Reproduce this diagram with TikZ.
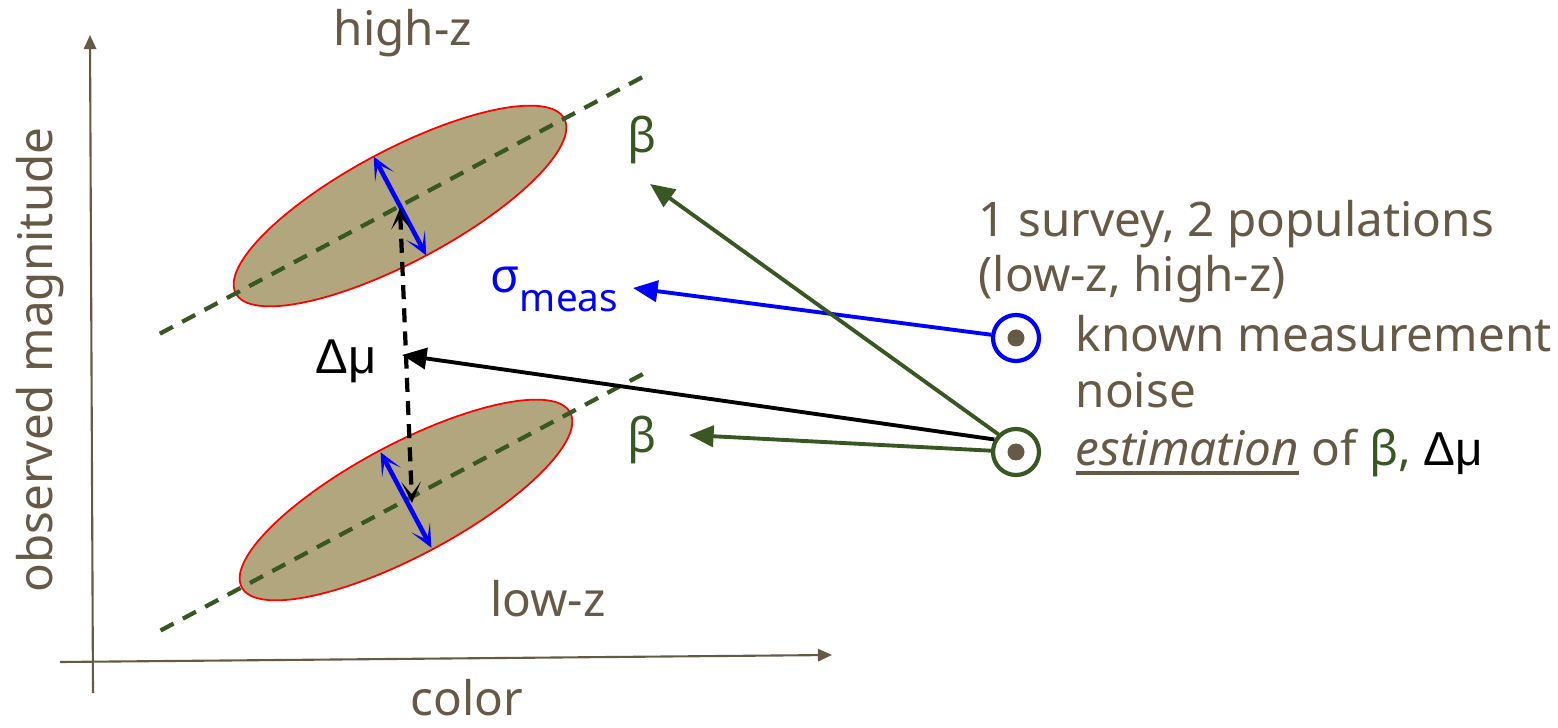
\documentclass[tikz,border=0pt]{standalone}
\usepackage{fontspec}
\setmainfont{Noto Sans}
\newfontfamily\arialfont{Liberation Sans}
\usepackage{tikz}
\usetikzlibrary{arrows.meta,positioning,calc}

\definecolor{textbrown}{RGB}{102,90,70}
\definecolor{popfill}{RGB}{177,166,126}
\definecolor{betagreen}{RGB}{56,87,35}

% thick underline
\newcommand{\thickul}[1]{\leavevmode\vtop{\hbox{#1}\kern1.5pt\hrule height 1.1pt}}

\begin{document}
\begin{tikzpicture}[
    font=\fontsize{13.55}{16}\selectfont,
    lbl/.style={text=textbrown, inner sep=0pt},
    axis/.style={textbrown, line width=0.6pt, -{Triangle[length=4pt,width=3.5pt]}},
    pop/.style={draw=red, fill=popfill, line width=0.5pt},
    trend/.style={betagreen, line width=1.2pt, dash pattern=on 4.2pt off 3pt},
    spread/.style={blue, line width=1.3pt, {Stealth[inset=4pt,length=6.5pt,width=6pt]}-{Stealth[inset=4pt,length=6.5pt,width=6pt]}},
    offset/.style={black, line width=1.2pt, dash pattern=on 4pt off 2.6pt, {Stealth[inset=3.5pt,length=6pt,width=5.5pt]}-{Stealth[inset=3.5pt,length=6pt,width=5.5pt]}},
    pointer/.style={line width=1.1pt, -{Triangle[length=7pt,width=6pt]}},
    bullet/.style={circle, line width=1.2pt, minimum size=0.46cm, inner sep=0pt, fill=white,
        path picture={\fill[textbrown] (path picture bounding box.center) circle (0.085);}}
]
    \useasboundingbox (0,0) rectangle (15.58,7.27);

    % axes
    \draw[axis] (0.93,0.34) -- (0.90,6.92);
    \draw[axis] (0.60,0.65) -- (8.32,0.72);
    \node[lbl, rotate=90] (ylab) at (0.40,3.67) {observed magnitude};
    \node[lbl, anchor=base] (xlab) at (4.67,0.12) {color};

    % the two populations
    \coordinate (hiC) at (4.00,5.21);
    \coordinate (loC) at (4.06,2.27);
    \draw[pop, rotate around={28:(hiC)}] (hiC) ellipse (1.86 and 0.56);
    \draw[pop, rotate around={28:(loC)}] (loC) ellipse (1.86 and 0.56);
    \draw[trend] ($(hiC)+(208:2.72)$) -- ($(hiC)+(28:2.78)$);
    \draw[trend] ($(loC)+(208:2.78)$) -- ($(loC)+(28:2.78)$);
    \node[lbl, anchor=base] (hiz) at (4.03,6.81) {high-z};
    \node[lbl, anchor=base] (loz) at (5.48,1.10) {low-z};

    % intrinsic width and offset
    \draw[spread] ($(hiC)+(118:0.56)$) -- ($(hiC)+(-62:0.56)$);
    \draw[spread] ($(loC)+(118:0.54)$) -- ($(loC)+(-62:0.54)$);
    \coordinate (hiEnd) at (4.00,5.19);
    \coordinate (loEnd) at (4.12,2.24);
    \draw[offset] (hiEnd) -- (loEnd);

    % labels on the plot
    \node[text=black, inner sep=0pt, anchor=base west, font=\arialfont\fontsize{13.9}{16}\selectfont] (dmu) at (3.15,3.54) {Δμ};
    \node[text=blue, inner sep=0pt, anchor=base west] (sig) at (4.90,4.34)
        {σ\raisebox{-5.4pt}{\fontsize{11}{11}\selectfont meas}};
    \node[text=betagreen, inner sep=0pt] (betahi) at (6.42,5.87) {β};
    \node[text=betagreen, inner sep=0pt] (betalo) at (6.42,2.87) {β};

    % legend on the right
    \node[lbl, anchor=base west] (survey) at (9.78,4.90) {1 survey, 2 populations};
    \node[lbl, anchor=base west] (pops) at (9.78,4.35) {(low-z, high-z)};
    \node[bullet, draw=blue] (bnoise) at (10.16,3.89) {};
    \node[lbl, anchor=base west] (known) at (10.75,3.75) {known measurement};
    \node[lbl, anchor=base west] (noise) at (10.75,3.19) {noise};
    \node[bullet, draw=betagreen] (best) at (10.16,2.75) {};
    \node[lbl, anchor=base west] (estim) at (10.75,2.62)
        {\thickul{\textit{estimation}} of \textcolor{betagreen}{β,} \textcolor{black}{\arialfont Δμ}};

    % what each item points at
    \coordinate (sigTip) at (6.33,4.39);
    \coordinate (dmuTip) at (4.02,3.72);
    \coordinate (betahiTip) at (6.50,5.43);
    \coordinate (betaloTip) at (6.89,2.92);
    \draw[pointer, blue] (bnoise) -- (sigTip);
    \draw[pointer, black] (best.150) -- (dmuTip);
    \draw[pointer, betagreen] (best.135) -- (betahiTip);
    \draw[pointer, betagreen] (best) -- (betaloTip);
\end{tikzpicture}
\end{document}
